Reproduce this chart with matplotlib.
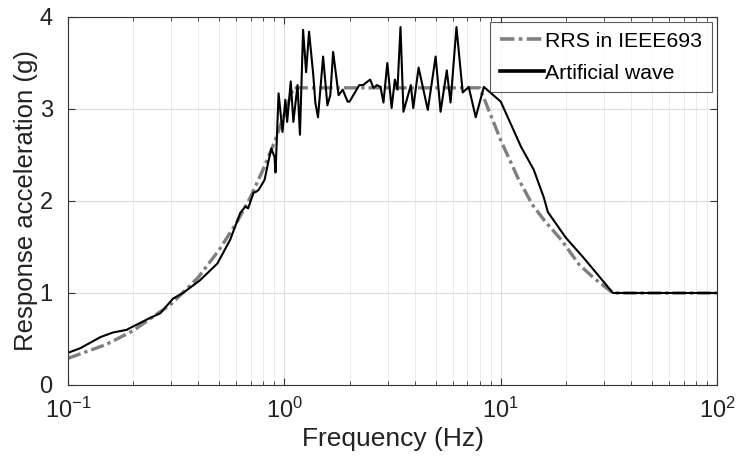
import matplotlib
matplotlib.use('Agg')
import matplotlib.pyplot as plt
from matplotlib.ticker import LogLocator, NullFormatter

plt.rcParams['font.family'] = ['Liberation Sans', 'DejaVu Sans']

# RRS in IEEE693
rrs_f = [0.1, 0.15, 0.2, 0.3, 0.4, 0.5, 0.6, 0.7, 0.8, 0.9, 1.0, 1.1,
         8.0, 10.0, 12.0, 14.0, 16.0, 19.0, 23.0, 27.0, 33.0, 100.0]
rrs_a = [0.29, 0.44, 0.59, 0.88, 1.17, 1.47, 1.76, 2.05, 2.35, 2.64, 2.94, 3.23,
         3.23, 2.66, 2.25, 1.96, 1.78, 1.58, 1.31, 1.16, 1.0, 1.0]

# artificial wave response spectrum
wave_f = [0.1, 0.114, 0.141, 0.161, 0.187, 0.19, 0.24, 0.267, 0.306, 0.34, 0.408,
          0.49, 0.562, 0.625, 0.66, 0.68, 0.72, 0.74, 0.76, 0.81, 0.84, 0.87,
          0.90, 0.91, 0.94, 0.98, 1.01, 1.03, 1.07, 1.10, 1.15, 1.18, 1.22,
          1.26, 1.30, 1.36, 1.39, 1.43, 1.51, 1.58, 1.63, 1.68, 1.78, 1.86,
          1.96, 2.0, 2.22, 2.31, 2.49, 2.58, 2.68, 2.78, 2.87, 2.99, 3.13,
          3.24, 3.33, 3.44, 3.55, 3.84, 3.94, 4.17, 4.60, 5.0, 5.27, 5.63,
          5.86, 6.24, 6.67, 7.11, 7.66, 8.35, 10.0, 12.4, 14.2, 15.8, 16.5,
          20.0, 24.2, 33.0, 100.0]
wave_a = [0.35, 0.40, 0.52, 0.57, 0.60, 0.61, 0.73, 0.78, 0.94, 1.0, 1.14,
          1.32, 1.58, 1.87, 1.94, 1.92, 2.09, 2.10, 2.12, 2.23, 2.41, 2.57,
          2.48, 2.31, 3.17, 2.75, 3.10, 2.86, 3.30, 2.86, 3.26, 2.72, 3.86,
          3.40, 3.84, 3.37, 3.07, 2.91, 3.57, 3.04, 3.15, 3.62, 3.15, 3.21,
          3.08, 3.08, 3.26, 3.26, 3.32, 3.23, 3.26, 3.24, 3.07, 3.50, 3.01,
          3.32, 3.21, 3.89, 2.97, 3.26, 3.01, 3.45, 2.99, 3.57, 2.97, 3.42,
          3.07, 3.89, 3.18, 3.24, 2.91, 3.24, 3.08, 2.59, 2.34, 2.04, 1.88,
          1.60, 1.38, 1.0, 1.0]

fig = plt.figure(figsize=(7.36, 4.58), dpi=100)
ax = fig.add_axes([0.0924, 0.1594, 0.882, 0.8035])

ax.plot(rrs_f, rrs_a, color='#7f7f7f', lw=2.4, linestyle=(0, (4, 1.2, 1, 1.2)),
        label='RRS in IEEE693')
ax.plot(wave_f, wave_a, color='black', lw=1.5, label='Artificial wave')

ax.set_xscale('log')
ax.set_xlim(0.1, 100)
ax.set_ylim(0, 4)
ax.set_yticks([0, 1, 2, 3, 4])
ax.xaxis.set_minor_locator(LogLocator(base=10, subs=range(2, 10)))
ax.xaxis.set_minor_formatter(NullFormatter())

ax.grid(True, which='major', color='#dcdcdc', lw=0.8)
ax.grid(True, which='minor', axis='x', color='#e6e6e6', lw=0.6)
ax.tick_params(which='both', direction='in', top=True, right=True,
               labelsize=17, color='#333333', labelcolor='#222222')
ax.tick_params(axis='x', which='major', pad=9)
ax.tick_params(axis='y', which='major', pad=11)
ax.tick_params(which='major', length=5)
ax.tick_params(which='minor', length=3)
for s in ax.spines.values():
    s.set_color('#333333')
    s.set_linewidth(0.8)

ax.set_xlabel('Frequency (Hz)', fontsize=19, color='#222222', labelpad=3)
ax.set_ylabel('Response acceleration (g)', fontsize=18.5, color='#222222', labelpad=1)

leg = ax.legend(loc='upper right', fontsize=15.3, frameon=True, fancybox=False,
                edgecolor='#333333', handlelength=2.1, handletextpad=0.05,
                borderpad=0.45, labelspacing=0.6, borderaxespad=0.25)
leg.get_frame().set_linewidth(0.8)
for h in leg.get_lines():
    h.set_linewidth(2.6)

plt.savefig('out.png', dpi=100)
plt.close()
